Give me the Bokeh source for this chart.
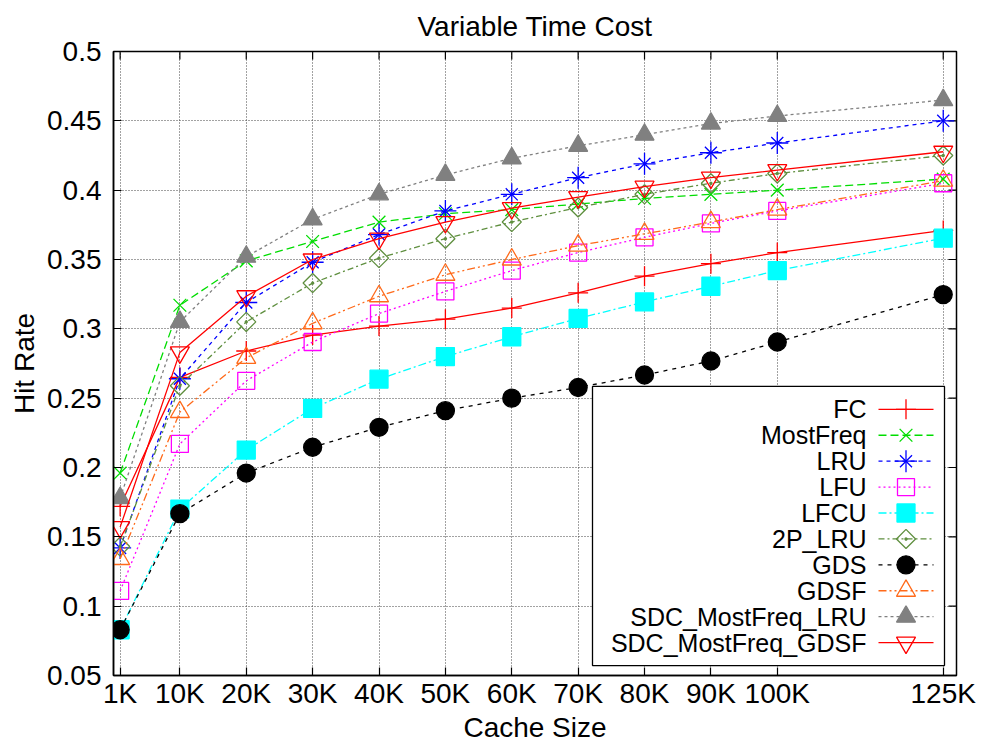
from bokeh.plotting import figure
from bokeh.models import Range1d, FixedTicker
from bokeh.embed import file_html
from bokeh.resources import INLINE
from bokeh.core.properties import value
import math

# ---------------- data ----------------
cache_k = [1, 10, 20, 30, 40, 50, 60, 70, 80, 90, 100, 125]
x_tick_labels = ["1K", "10K", "20K", "30K", "40K", "50K", "60K", "70K", "80K", "90K", "100K", "125K"]
y_ticks = [0.05, 0.1, 0.15, 0.2, 0.25, 0.3, 0.35, 0.4, 0.45, 0.5]
y_tick_labels = ["0.05", "0.1", "0.15", "0.2", "0.25", "0.3", "0.35", "0.4", "0.45", "0.5"]

fc = [0.172, 0.265, 0.284, 0.2955, 0.302, 0.307, 0.315, 0.326, 0.338, 0.347, 0.355, 0.371]
most_freq = [0.196, 0.317, 0.349, 0.363, 0.377, 0.383, 0.386, 0.390, 0.394, 0.397, 0.400, 0.408]
lru = [0.142, 0.264, 0.319, 0.348, 0.368, 0.385, 0.397, 0.409, 0.419, 0.427, 0.434, 0.450]
lfu = [0.111, 0.217, 0.2625, 0.2905, 0.311, 0.327, 0.342, 0.355, 0.366, 0.376, 0.385, 0.405]
lfcu = [0.083, 0.170, 0.2126, 0.2426, 0.2637, 0.280, 0.2943, 0.3075, 0.3194, 0.3307, 0.342, 0.3654]
p2_lru = [0.143, 0.259, 0.305, 0.333, 0.351, 0.365, 0.377, 0.3875, 0.397, 0.405, 0.412, 0.425]
gds = [0.083, 0.1667, 0.196, 0.2146, 0.229, 0.241, 0.250, 0.2577, 0.2667, 0.2768, 0.2905, 0.3247]
gdsf = [0.134, 0.240, 0.279, 0.304, 0.3235, 0.339, 0.350, 0.360, 0.3685, 0.377, 0.386, 0.4068]
sdc_mf_lru = [0.178, 0.305, 0.352, 0.379, 0.397, 0.411, 0.423, 0.432, 0.440, 0.448, 0.4535, 0.465]
sdc_mf_gdsf = [0.157, 0.283, 0.3235, 0.350, 0.365, 0.377, 0.387, 0.395, 0.4025, 0.409, 0.4145, 0.4277]

series_names = ["FC", "MostFreq", "LRU", "LFU", "LFCU", "2P_LRU", "GDS", "GDSF",
                "SDC_MostFreq_LRU", "SDC_MostFreq_GDSF"]
series_values = [fc, most_freq, lru, lfu, lfcu, p2_lru, gds, gdsf, sdc_mf_lru, sdc_mf_gdsf]
title_text = "Variable Time Cost"

# ---------------- styles ----------------
FONT = "Liberation Sans"
W, H = 981, 745
FL, FR, FT, FB = 113, 956, 51, 677   # frame in pixels
X0, X1 = 0, 127
Y0, Y1 = 0.05, 0.5
TICK_PX = 8

styles = [
    dict(color="#ff0000", dash="solid", marks=[dict(marker="cross", size=20)]),
    dict(color="#00dd00", dash="8 4", marks=[dict(marker="x", size=18)]),
    dict(color="#0000ff", dash="4 4", marks=[dict(marker="cross", size=22), dict(marker="x", size=17)]),
    dict(color="#ff00ff", dash="2 3", marks=[dict(marker="square", size=17, fill=None)]),
    dict(color="#00ffff", dash="8 3 2 3", marks=[dict(marker="square", size=18, fill="#00ffff")]),
    dict(color="#5f8f3f", dash="6 3 2 3", marks=[dict(marker="square_dot", size=13.5, fill=None, angle=math.pi / 4)]),
    dict(color="#000000", dash="4 5", marks=[dict(marker="circle", size=18, fill="#000000")]),
    dict(color="#ff6a1a", dash="8 3 2 3 2 3", marks=[dict(marker="triangle", size=19, fill=None)]),
    dict(color="#808080", dash="3 3", marks=[dict(marker="triangle", size=19, fill="#808080")]),
    dict(color="#ff0000", dash="solid", marks=[dict(marker="inverted_triangle", size=19, fill=None)]),
]


def px_x(px):
    return X0 + (px - FL) / (FR - FL) * (X1 - X0)


def px_y(py):
    return Y1 - (py - FT) / (FB - FT) * (Y1 - Y0)


p = figure(width=W, height=H, output_backend="svg", toolbar_location=None,
           x_range=Range1d(X0, X1), y_range=Range1d(Y0, Y1),
           min_border_left=FL, min_border_right=W - FR,
           min_border_top=FT, min_border_bottom=H - FB)
p.background_fill_color = "white"
p.border_fill_color = "white"
p.outline_line_color = "black"
p.outline_line_width = 1.5

p.title.text = title_text
p.title.align = "center"
p.title.vertical_align = "top"
p.title.text_font = FONT
p.title.text_font_size = "28px"
p.title.text_font_style = "normal"
p.title.text_color = "black"
p.title.standoff = 16

xt = FixedTicker(ticks=cache_k)
yt = FixedTicker(ticks=y_ticks)

for ax in p.xaxis:
    ax.ticker = xt
    ax.major_label_overrides = {k: lbl for k, lbl in zip(cache_k, x_tick_labels)}
    ax.axis_label = "Cache Size"
    ax.major_label_standoff = 2
    ax.axis_label_standoff = 0
for ax in p.yaxis:
    ax.ticker = yt
    ax.major_label_overrides = {k: lbl for k, lbl in zip(y_ticks, y_tick_labels)}
    ax.axis_label = "Hit Rate"
    ax.major_label_standoff = 12
    ax.axis_label_standoff = 4
for ax in p.xaxis + p.yaxis:
    ax.major_tick_in = TICK_PX
    ax.major_tick_out = 0
    ax.minor_tick_in = 0
    ax.minor_tick_out = 0
    ax.axis_line_color = "black"
    ax.axis_line_width = 1.5
    ax.major_tick_line_color = "black"
    ax.major_tick_line_width = 1.2
    ax.major_label_text_font = FONT
    ax.major_label_text_font_size = "28px"
    ax.major_label_text_color = "black"
    ax.axis_label_text_font = FONT
    ax.axis_label_text_font_size = "28px"
    ax.axis_label_text_font_style = "normal"
    ax.axis_label_text_color = "black"

p.xgrid.ticker = xt
p.ygrid.ticker = yt
for g in (p.xgrid[0], p.ygrid[0]):
    g.grid_line_color = "#444444"
    g.grid_line_dash = "1 2"
    g.grid_line_width = 1

# mirrored inward ticks on top and right borders (from the tick arrays)
tlx = (X1 - X0) * TICK_PX / (FR - FL)
tly = (Y1 - Y0) * TICK_PX / (FB - FT)
p.segment(x0=cache_k, y0=[Y1] * len(cache_k), x1=cache_k, y1=[Y1 - tly] * len(cache_k),
          line_color="black", line_width=1.2)
p.segment(x0=[X1] * len(y_ticks), y0=y_ticks, x1=[X1 - tlx] * len(y_ticks), y1=y_ticks,
          line_color="black", line_width=1.2)


def draw_marks(xs, ys, st):
    for m in st["marks"]:
        fill = m.get("fill", None)
        p.scatter(xs, ys, marker=m["marker"], size=m["size"],
                  angle=m.get("angle", 0.0),
                  line_color=st["color"], line_width=1.3,
                  fill_color=fill, fill_alpha=1.0 if fill else 0.0)


for vals, st in zip(series_values, styles):
    p.line(cache_k, vals, line_color=st["color"], line_width=1.3, line_dash=st["dash"])
    draw_marks(cache_k, vals, st)

# ---------------- key (gnuplot-like, text right-aligned) ----------------
p.quad(left=[px_x(592)], right=[px_x(944)], top=[px_y(387)], bottom=[px_y(667)],
       fill_color="white", line_color="black", line_width=1.3)
for i, (name, st) in enumerate(zip(series_names, styles)):
    yrow = px_y(410 + 26 * i)
    p.line([px_x(878), px_x(933)], [yrow, yrow], line_color=st["color"],
           line_width=1.3, line_dash=st["dash"])
    draw_marks([px_x(905.5)], [yrow], st)
    p.text(x=[px_x(866)], y=[yrow], text=[name], text_align="right",
           text_baseline="middle", text_font=value(FONT),
           text_font_size=value("25px"), text_color="black")

open("out.html", "w").write(file_html(p, INLINE))
